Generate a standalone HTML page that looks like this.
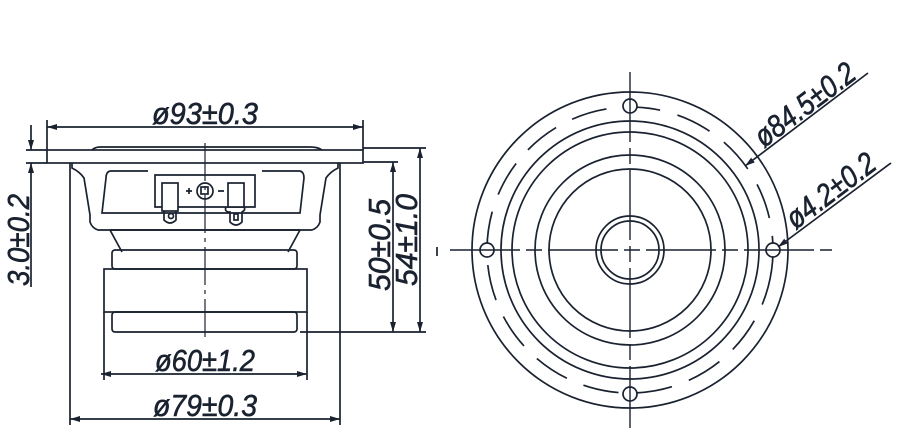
<!DOCTYPE html>
<html><head><meta charset="utf-8"><style>
html,body{margin:0;padding:0;background:#fff;}
svg{display:block;}
text{font-family:"Liberation Sans",sans-serif;font-style:italic;font-size:31px;fill:#1a2230;stroke:#1a2230;stroke-width:0.6;}
</style></head><body>
<svg width="902" height="442" viewBox="0 0 902 442" xmlns="http://www.w3.org/2000/svg">
<defs>
<marker id="a" viewBox="0 0 10 6" refX="10" refY="3" markerWidth="10" markerHeight="6" orient="auto-start-reverse" markerUnits="userSpaceOnUse"><path d="M0,0 L10,3 L0,6z" fill="#1a2230"/></marker>
</defs>
<g stroke="#1a2230" stroke-width="1.7" fill="none">
<path d="M92,150 Q95,147 100,147 L310,147 Q318,147 322,150"/>
<rect x="47" y="150" width="316" height="13"/>
<path d="M72,163 L72,168 Q80,172 84,178 L90,215 L90,222 Q92,228 98,230 L300,230"/>
<path d="M338,163 L338,168 Q330,172 326,178 L320,215 L320,222 Q318,228 312,230 L110,230"/>
<path d="M110,230 L122,252 M300,230 L288,252"/>
<path d="M110,171 L148,171 M262,171 L300,171 Q304,172 304,178 L300,213 L102,213 L106,178 Q106,172 110,171"/>
<path d="M155,175 L255,175 L255,207 L155,207 Z"/>
<rect x="162" y="183" width="16" height="28" fill="#fff"/>
<path d="M164,211 L164,220 Q170,226 176,220 L176,211"/>
<circle cx="171" cy="216" r="2.5"/>
<rect x="228" y="183" width="16" height="24" fill="#fff"/>
<path d="M226,207 Q224,212 230,212 L230,222 Q236,228 242,222 L242,212 Q246,210 244,207"/>
<rect x="234" y="214" width="4" height="6"/>
<circle cx="205" cy="191" r="8"/>
<rect x="201" y="187" width="7" height="7"/>
<path d="M186,191 L192,191 M189,188 L189,194 M218,191 L224,191"/>
<rect x="112" y="250" width="185" height="19" rx="3"/>
<rect x="104" y="269" width="203" height="43"/>
<rect x="112" y="312" width="185" height="20" rx="3"/>
<path d="M205,143 L205,342" stroke-dasharray="38,5,4,5" stroke-width="1.2"/>
<path d="M47,120 L47,150 M363,120 L363,150"/>
<path d="M47,127 L363,127" marker-start="url(#a)" marker-end="url(#a)"/>
<path d="M104,312 L104,380 M307,312 L307,380"/>
<path d="M101,374 L307,374" marker-start="url(#a)" marker-end="url(#a)"/>
<path d="M70,163 L70,425 M340,163 L340,425"/>
<path d="M70,419 L340,419" marker-start="url(#a)" marker-end="url(#a)"/>
<path d="M26,150 L47,150 M26,163 L47,163"/>
<path d="M31,125 L31,150" marker-end="url(#a)"/>
<path d="M31,188 L31,163" marker-end="url(#a)"/>
<path d="M31,188 L31,287"/>
<path d="M363,148 L426,148 M363,162 L398,162 M300,332 L426,332"/>
<path d="M393,162 L393,332" marker-start="url(#a)" marker-end="url(#a)"/>
<path d="M420,148 L420,332" marker-start="url(#a)" marker-end="url(#a)"/>
<path d="M437,247 L437,256"/>
<circle cx="630" cy="250" r="158"/>
<circle cx="630" cy="250" r="143" stroke-dasharray="36,18" transform="rotate(8 630 250)"/>
<circle cx="630" cy="250" r="129"/>
<circle cx="630" cy="250" r="118"/>
<circle cx="630" cy="250" r="95"/>
<circle cx="630" cy="250" r="81"/>
<circle cx="630" cy="250" r="34"/>
<circle cx="630" cy="250" r="29"/>
<circle cx="630" cy="106" r="7" fill="#fff"/>
<circle cx="630" cy="394" r="7" fill="#fff"/>
<circle cx="487" cy="250" r="7" fill="#fff"/>
<circle cx="773" cy="250" r="7" fill="#fff"/>
<path d="M450,250 L832,250" stroke-dasharray="70,6,16,6" stroke-width="1.4"/>
<path d="M630,72 L630,428" stroke-dasharray="70,6,16,6" stroke-width="1.4"/>
<path d="M868,73 L745,166" marker-end="url(#a)"/>
<path d="M891,163 L778,247" marker-end="url(#a)"/>
</g>
<g>
<text x="205" y="124" text-anchor="middle" textLength="106" lengthAdjust="spacingAndGlyphs">ø93±0.3</text>
<text x="205" y="371" text-anchor="middle" textLength="100" lengthAdjust="spacingAndGlyphs">ø60±1.2</text>
<text x="205" y="416" text-anchor="middle" textLength="104" lengthAdjust="spacingAndGlyphs">ø79±0.3</text>
<text transform="translate(29,240) rotate(-90)" text-anchor="middle" textLength="92" lengthAdjust="spacingAndGlyphs">3.0±0.2</text>
<text transform="translate(390,245) rotate(-90)" text-anchor="middle" textLength="92" lengthAdjust="spacingAndGlyphs">50±0.5</text>
<text transform="translate(417,240) rotate(-90)" text-anchor="middle" textLength="92" lengthAdjust="spacingAndGlyphs">54±1.0</text>
<text transform="translate(811,113) rotate(-37)" text-anchor="middle" textLength="118" lengthAdjust="spacingAndGlyphs">ø84.5±0.2</text>
<text transform="translate(837,199) rotate(-37)" text-anchor="middle" textLength="104" lengthAdjust="spacingAndGlyphs">ø4.2±0.2</text>
</g>
</svg>
</body></html>
